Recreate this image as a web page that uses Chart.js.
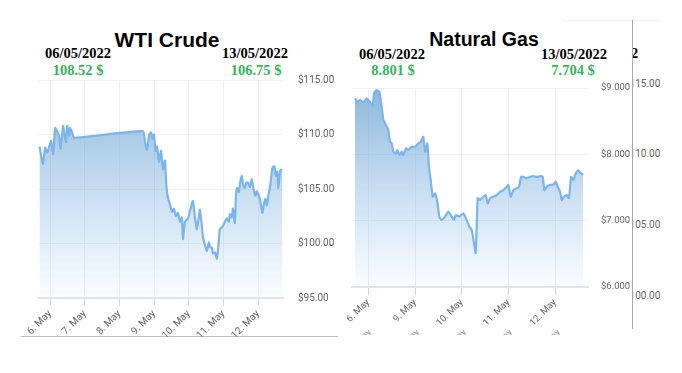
<!DOCTYPE html>
<html>
<head>
<meta charset="utf-8">
<script src="https://cdn.jsdelivr.net/npm/chart.js@4.4.1/dist/chart.umd.min.js"></script>
<style>
  body { margin: 0; background: #fff; width: 682px; height: 373px; position: relative; overflow: hidden; }
  .box { position: absolute; }
  .title { position: absolute; font-family: "Liberation Sans", Arial, sans-serif; font-weight: bold; color: #000; line-height: 1; white-space: nowrap; transform: translateX(-50%); }
  .date { position: absolute; font-family: "Liberation Serif", "Times New Roman", serif; font-weight: bold; font-size: 14.5px; line-height: 1; color: #000; white-space: nowrap; transform: translateX(-50%); }
  .price { position: absolute; font-family: "Liberation Serif", "Times New Roman", serif; font-weight: bold; font-size: 14.5px; line-height: 1; color: #34b65a; white-space: nowrap; transform: translateX(-50%); }
  .ghost { position: absolute; font-family: Roboto, sans-serif; font-size: 10px; color: #666; white-space: nowrap; line-height: 1; }
  .stub { position: absolute; top: -3px; font-family: Roboto, sans-serif; font-size: 9.5px; color: #999; white-space: nowrap; line-height: 1; transform-origin: 100% 0; transform: translateX(-100%) rotate(-45deg); }
</style>
</head>
<body>
<div class="title" style="left:167px;top:29px;font-size:21px;">WTI Crude</div>
<div class="date" style="left:78px;top:46px;">06/05/2022</div>
<div class="price" style="left:78px;top:63px;">108.52 $</div>
<div class="date" style="left:255px;top:46px;">13/05/2022</div>
<div class="price" style="left:256px;top:63px;">106.75 $</div>

<div class="title" style="left:484px;top:30px;font-size:19.5px;">Natural Gas</div>
<div class="date" style="left:392px;top:47px;">06/05/2022</div>
<div class="price" style="left:393px;top:63px;">8.801 $</div>
<div class="date" style="left:574px;top:47px;">13/05/2022</div>
<div class="price" style="left:573px;top:63px;">7.704 $</div>

<!-- bits of the next widget peeking in on the right -->
<div class="box" style="left:562px;top:20px;width:98px;height:1px;background:#f2f2f2;"></div>
<div class="box" style="left:632px;top:20px;width:1px;height:309px;background:#a8a8a8;"></div>
<div class="box" style="left:633px;top:40px;width:10px;height:20px;overflow:hidden;">
  <span class="date" style="left:-2px;top:6px;transform:none;">2</span>
</div>
<div class="box" style="left:633px;top:70px;width:49px;height:240px;overflow:hidden;">
  <span class="ghost" style="left:-9px;top:9px;">$115.00</span>
  <span class="ghost" style="left:-9px;top:79px;">$110.00</span>
  <span class="ghost" style="left:-9px;top:150px;">$105.00</span>
  <span class="ghost" style="left:-9px;top:221px;">$100.00</span>
</div>
<!-- tops of a hidden row of date labels under the gas chart -->
<div class="box" style="left:340px;top:330px;width:290px;height:5px;overflow:hidden;">
  <span class="stub" style="left:26px;">6. May</span>
  <span class="stub" style="left:74px;">9. May</span>
  <span class="stub" style="left:121px;">10. May</span>
  <span class="stub" style="left:167px;">11. May</span>
  <span class="stub" style="left:215px;">12. May</span>
</div>

<div class="box" style="left:21px;top:336px;width:317px;height:1px;background:#bdbdbd;"></div>

<canvas id="wtiChart" class="box" style="left:0;top:70px;" width="340" height="270"></canvas>
<canvas id="gasChart" class="box" style="left:340px;top:78px;" width="292" height="251"></canvas>

<script>
// WTI crude: x = day of May (decimal), y = price
var wtiDays = [5.692, 5.79, 5.856, 5.914, 5.971, 6.029, 6.086, 6.144, 6.202, 6.259, 6.303, 6.375, 6.403, 6.461, 6.49, 6.548, 6.576, 6.634, 6.692,
    8.68, 8.738, 8.795, 8.853, 8.911, 8.954, 8.997, 9.04, 9.084, 9.141, 9.199, 9.256, 9.314, 9.357, 9.401, 9.458,
    9.516, 9.573, 9.631, 9.689, 9.746, 9.804, 9.833, 9.89, 9.977, 10.035, 10.121, 10.179, 10.236, 10.294, 10.323, 10.38,
    10.409, 10.467, 10.524, 10.582, 10.611, 10.669, 10.697, 10.755, 10.813, 10.87, 10.899, 10.986, 11.043, 11.101, 11.159,
    11.187, 11.245, 11.274, 11.331, 11.36, 11.389, 11.447, 11.476, 11.533, 11.576, 11.62, 11.663, 11.706, 11.764, 11.821,
    11.865, 11.922, 11.965, 12.009, 12.066, 12.124, 12.167, 12.21, 12.254, 12.297, 12.355, 12.412, 12.47, 12.499, 12.527,
    12.556, 12.585, 12.643, 12.7];
var wtiPrices = [108.9, 107.3, 108.8, 108.3, 108.9, 109.4, 108.2, 110.6, 110.3, 109.9, 108.7, 110.8, 110.2, 109.3, 110.8, 109.9, 110.6, 110.2, 109.7,
    110.3, 109.3, 108.6, 109.9, 110.2, 109.6, 110.0, 108.5, 108.9, 107.5, 108.5, 106.8, 107.6, 105.2, 104.2, 103.6,
    102.9, 103.2, 102.5, 102.8, 102.0, 102.4, 100.4, 102.0, 102.3, 103.0, 103.9, 102.4, 101.3, 102.5, 103.1, 101.6,
    100.6, 99.9, 99.3, 100.1, 99.7, 99.6, 99.1, 99.2, 98.6, 100.3, 101.3, 101.6, 102.0, 102.3, 102.0,
    102.7, 102.4, 103.2, 101.9, 104.2, 105.1, 104.7, 105.5, 106.2, 105.3, 105.1, 105.6, 105.6, 105.2, 105.9,
    105.1, 104.4, 104.8, 104.5, 103.9, 102.8, 103.6, 104.1, 103.5, 104.4, 105.4, 106.9, 107.1, 106.4, 106.2,
    106.6, 105.1, 106.7, 106.8];
var wtiTickDays = [6, 7, 8, 9, 10, 11, 12];
var wtiTickLabels = ['6. May', '7. May', '8. May', '9. May', '10. May', '11. May', '12. May'];
var wtiPriceTicks = [95, 100, 105, 110, 115];

// natural gas: x = trading session (0 = 6 May, 1 = 9 May ...), y = price
var gasSessions = [-0.285, -0.236, -0.178, -0.107, -0.034, 0.036, 0.094, 0.122, 0.18, 0.236, 0.287, 0.321, 0.379, 0.428, 0.465,
    0.501, 0.535, 0.587, 0.621, 0.664, 0.715, 0.749, 0.807, 0.857, 0.929, 1.0, 1.071, 1.122, 1.178, 1.214, 1.263, 1.3,
    1.336, 1.379, 1.428, 1.478, 1.52, 1.572, 1.642, 1.713, 1.786, 1.835, 1.878, 1.949, 2.034, 2.107, 2.163, 2.214, 2.263,
    2.3, 2.343, 2.392, 2.463, 2.514, 2.557, 2.606, 2.677, 2.749, 2.82, 2.891, 2.964, 2.998, 3.049, 3.105, 3.178, 3.227,
    3.27, 3.319, 3.392, 3.463, 3.533, 3.604, 3.677, 3.734, 3.769, 3.82, 3.891, 3.961, 4.013, 4.056, 4.105, 4.141, 4.186,
    4.248, 4.298, 4.34, 4.39, 4.441, 4.493, 4.555, 4.604];
var gasPrices = [8.845, 8.79, 8.82, 8.78, 8.845, 8.79, 8.72, 8.92, 8.97, 8.945, 8.72, 8.52, 8.44, 8.37, 8.19,
    8.165, 8.04, 8.015, 8.065, 7.99, 8.04, 7.99, 8.09, 8.065, 8.115, 8.115, 8.165, 8.19, 8.265, 8.04, 8.165, 7.81,
    7.61, 7.36, 7.41, 7.285, 7.06, 7.01, 7.06, 7.135, 7.06, 7.01, 7.085, 7.06, 7.11, 7.01, 6.91, 6.86, 6.66,
    6.51, 7.34, 7.31, 7.36, 7.385, 7.26, 7.34, 7.36, 7.385, 7.435, 7.46, 7.51, 7.54, 7.36, 7.46, 7.49, 7.51,
    7.66, 7.66, 7.64, 7.66, 7.67, 7.66, 7.67, 7.66, 7.46, 7.51, 7.54, 7.54, 7.59, 7.51, 7.435, 7.31, 7.36,
    7.385, 7.34, 7.66, 7.61, 7.71, 7.76, 7.71, 7.70];
var gasTickSessions = [0, 1, 2, 3, 4];
var gasTickLabels = ['6. May', '9. May', '10. May', '11. May', '12. May'];
var gasPriceTicks = [6, 7, 8, 9];

function points(xs, ys) {
    return xs.map(function (x, i) { return { x: x, y: ys[i] }; });
}

function areaFill(context) {
    var area = context.chart.chartArea;
    if (!area) return 'rgba(124,181,236,0.5)';
    var g = context.chart.ctx.createLinearGradient(0, area.top, 0, area.bottom);
    g.addColorStop(0, 'rgba(108,162,206,0.78)');
    g.addColorStop(1, 'rgba(124,181,236,0.03)');
    return g;
}

function makeChart(id, xs, ys, opts) {
    var ctx = document.getElementById(id).getContext('2d');
    return new Chart(ctx, {
        type: 'line',
        data: {
            datasets: [{
                data: points(xs, ys),
                borderColor: '#7cb5ec',
                borderWidth: 2.2,
                backgroundColor: areaFill,
                fill: 'start',
                pointRadius: 0,
                tension: 0.15
            }]
        },
        options: {
            responsive: false,
            animation: false,
            layout: { padding: opts.padding },
            plugins: { legend: { display: false }, title: { display: false }, tooltip: { enabled: false } },
            scales: {
                x: {
                    type: 'linear',
                    min: opts.xMin,
                    max: opts.xMax,
                    afterBuildTicks: function (scale) {
                        scale.ticks = opts.tickValues.map(function (v) { return { value: v }; });
                    },
                    afterFit: function (scale) { scale.height = 40; },
                    ticks: {
                        autoSkip: false,
                        minRotation: 45,
                        maxRotation: 45,
                        padding: 2,
                        color: '#666',
                        font: { family: 'Roboto', size: opts.fontSize },
                        callback: function (v, i) { return opts.tickLabels[i]; }
                    },
                    grid: { color: '#f0f0f0', tickColor: '#ccd6eb', tickLength: 8 },
                    border: { color: '#e0e4ef', width: 2 }
                },
                y: {
                    position: 'right',
                    min: opts.yTicks[0],
                    max: opts.yTicks[opts.yTicks.length - 1],
                    afterBuildTicks: function (scale) {
                        scale.ticks = opts.yTicks.map(function (v) { return { value: v }; });
                    },
                    afterFit: function (scale) {
                        scale.width = opts.yWidth;
                        scale.paddingTop = 0;
                        scale.paddingBottom = 0;
                    },
                    ticks: {
                        padding: opts.yPad,
                        color: '#666',
                        font: { family: 'Roboto', size: opts.fontSize },
                        callback: function (v) { return '$' + v.toFixed(opts.decimals); }
                    },
                    grid: { color: '#f2f2f2', drawTicks: false },
                    border: { display: false }
                }
            }
        }
    });
}

makeChart('wtiChart', wtiDays, wtiPrices, {
    padding: { left: 38, top: 10, right: 2, bottom: 2 },
    xMin: 5.65, xMax: 12.72,
    tickValues: wtiTickDays, tickLabels: wtiTickLabels,
    yTicks: wtiPriceTicks, yWidth: 55, yPad: 15, decimals: 2, fontSize: 10
});

makeChart('gasChart', gasSessions, gasPrices, {
    padding: { left: 12, top: 10, right: 0, bottom: 2 },
    xMin: -0.349, xMax: 4.704,
    tickValues: gasTickSessions, tickLabels: gasTickLabels,
    yTicks: gasPriceTicks, yWidth: 44, yPad: 13, decimals: 3, fontSize: 9.5
});
</script>
</body>
</html>
